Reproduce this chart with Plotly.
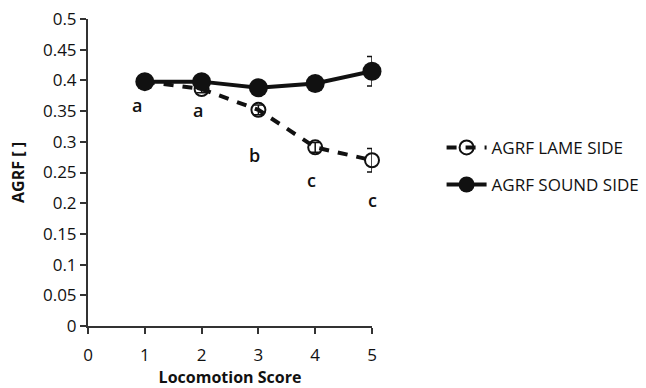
import plotly.graph_objects as go

scores = [1, 2, 3, 4, 5]
lame = [0.398, 0.386, 0.352, 0.291, 0.270]
lame_err = [0.004, 0.006, 0.008, 0.008, 0.019]
sound = [0.398, 0.398, 0.388, 0.395, 0.415]
sound_err = [0.004, 0.004, 0.004, 0.004, 0.024]
letters = ["a", "a", "b", "c", "c"]
letter_y = [0.360, 0.352, 0.278, 0.238, 0.205]
letter_x = [0.86, 1.93, 2.94, 3.93, 5.0]
yticks = [0, 0.05, 0.1, 0.15, 0.2, 0.25, 0.3, 0.35, 0.4, 0.45, 0.5]
ytick_text = ["0", "0.05", "0.1", "0.15", "0.2", "0.25", "0.3", "0.35", "0.4", "0.45", "0.5"]

FONT = "Open Sans"
INK = "#111111"

fig = go.Figure()
fig.add_trace(go.Scatter(
    x=scores, y=lame, name="AGRF LAME SIDE", mode="lines+markers", legendgroup="lame",
    line=dict(color="#111111", width=4, dash="10px,9px"),
    marker=dict(symbol="circle-open", size=14, color="#111111", line=dict(width=2)),
    error_y=dict(type="data", array=lame_err, color="#111111", thickness=1.5, width=5),
    cliponaxis=False,
))
fig.add_trace(go.Scatter(
    x=scores, y=sound, name="AGRF SOUND SIDE", mode="lines+markers", legendgroup="sound",
    line=dict(color="#111111", width=4),
    marker=dict(symbol="circle", size=19, color="#111111"),
    error_y=dict(type="data", array=sound_err, color="#111111", thickness=1.5, width=5),
    cliponaxis=False,
))

for lx, ly, t in zip(letter_x, letter_y, letters):
    fig.add_annotation(x=lx, y=ly, text=t, showarrow=False,
                       font=dict(family=FONT, size=18, color=INK, weight=600))

fig.update_layout(
    width=646, height=388,
    margin=dict(l=88, r=274, t=19, b=62, autoexpand=False),
    paper_bgcolor="white", plot_bgcolor="white",
    font=dict(family=FONT, color=INK),
    showlegend=True,
    legend=dict(x=1.245, y=0.52, xanchor="left", yanchor="middle",
                font=dict(family=FONT, size=17, color=INK),
                itemwidth=40, tracegroupgap=12, bgcolor="rgba(0,0,0,0)"),
    xaxis=dict(range=[0, 5], tickvals=[0, 1, 2, 3, 4, 5], showgrid=False, zeroline=False,
               showline=True, linecolor="#333333", linewidth=2,
               ticks="outside", ticklen=6, tickwidth=2, tickcolor="#333333",
               ticklabelstandoff=7,
               tickfont=dict(family=FONT, size=17, color=INK),
               title=dict(text="<b>Locomotion Score</b>", font=dict(family=FONT, size=16, color=INK), standoff=7)),
    yaxis=dict(range=[0, 0.5], tickvals=yticks, ticktext=ytick_text, showgrid=False, zeroline=False,
               showline=True, linecolor="#333333", linewidth=2,
               ticks="outside", ticklen=6, tickwidth=2, tickcolor="#333333",
               tickfont=dict(family=FONT, size=17, color=INK),
               title=dict(text="<b>AGRF [ ]</b>", font=dict(family=FONT, size=16, color=INK), standoff=14)),
)

fig.write_html("out.html")
